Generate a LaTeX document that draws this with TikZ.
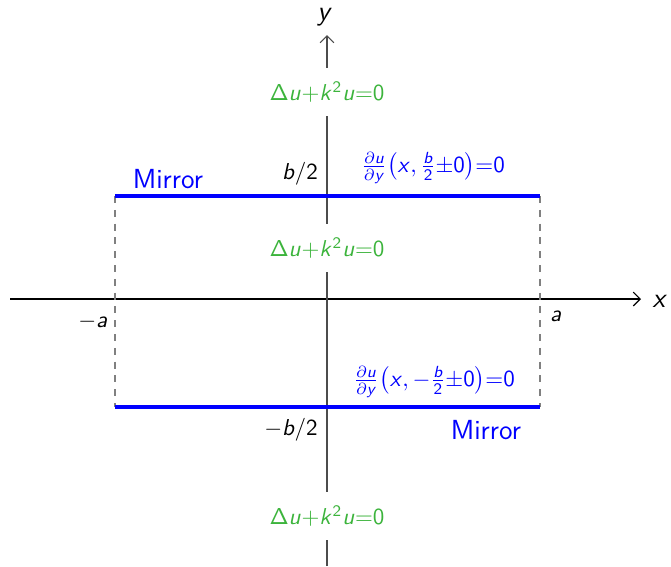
\documentclass[tikz,border=0pt]{standalone}
\usetikzlibrary{arrows.meta}
\DeclareSymbolFont{sfsl}{OT1}{cmss}{m}{sl}
\DeclareSymbolFont{sfup}{OT1}{cmss}{m}{n}
\DeclareMathSymbol{a}{\mathalpha}{sfsl}{`a}
\DeclareMathSymbol{b}{\mathalpha}{sfsl}{`b}
\DeclareMathSymbol{k}{\mathalpha}{sfsl}{`k}
\DeclareMathSymbol{u}{\mathalpha}{sfsl}{`u}
\DeclareMathSymbol{x}{\mathalpha}{sfsl}{`x}
\DeclareMathSymbol{y}{\mathalpha}{sfsl}{`y}
\DeclareMathSymbol{0}{\mathalpha}{sfup}{`0}
\DeclareMathSymbol{2}{\mathalpha}{sfup}{`2}
\DeclareMathSymbol{/}{\mathord}{sfup}{`/}
\DeclareMathSymbol{\Delta}{\mathalpha}{sfup}{"01}
\definecolor{eqgreen}{RGB}{60,180,60}
\begin{document}
\sffamily
\begin{tikzpicture}[x=0.4348pt,y=-0.4348pt,
  eq/.style={text=eqgreen,fill=white,inner xsep=2pt,inner ysep=6pt},
  bc/.style={text=blue,inner sep=1pt},
  mirror/.style={draw=blue,line width=1.5pt},
  lbl/.style={inner sep=1pt},
  guide/.style={draw=gray,dashed,line width=0.5pt},
  axis/.style={-{Straight Barb[length=3pt]},line width=0.5pt}]
\useasboundingbox (0,0) rectangle (671,566);
% axes
\coordinate (xs) at (10,299);
\coordinate (xe) at (641,299);
\coordinate (ys) at (327,566);
\coordinate (ye) at (327,35);
\draw[axis,black] (xs) -- (xe);
\draw[axis,black!70] (ys) -- (ye);
\node[lbl] (xl) at (660,301) {\large $x$};
\node[lbl] (yl) at (325,17) {\large $y$};
% box
\coordinate (tl) at (115,196);
\coordinate (tr) at (540,196);
\coordinate (bl) at (115,407);
\coordinate (br) at (540,407);
\draw[guide] (tl) -- (bl);
\draw[guide] (tr) -- (br);
\draw[mirror] (tl) -- (tr);
\draw[mirror] (bl) -- (br);
% labels
\node[lbl] (ma) at (93,322) {$-a$};
\node[lbl] (pa) at (556,316) {$a$};
\node[lbl] (pb) at (300,174) {$b/2$};
\node[lbl] (mb) at (291,430) {$-b/2$};
\node[lbl,text=blue] (mt) at (168,179) {\large Mirror};
\node[lbl,text=blue] (mbt) at (486,430) {\large Mirror};
\node[bc] (bct) at (433,168) {$\frac{\partial u}{\partial y}\bigl(x,\frac{b}{2}{\pm}0\bigr){=}0$};
\node[bc] (bcb) at (434,382) {$\frac{\partial u}{\partial y}\bigl(x,-\frac{b}{2}{\pm}0\bigr){=}0$};
% equations
\node[eq] (e1) at (327,92) {$\Delta u{+}k^2u{=}0$};
\node[eq] (e2) at (327,248) {$\Delta u{+}k^2u{=}0$};
\node[eq] (e3) at (327,516) {$\Delta u{+}k^2u{=}0$};
\end{tikzpicture}
\end{document}
